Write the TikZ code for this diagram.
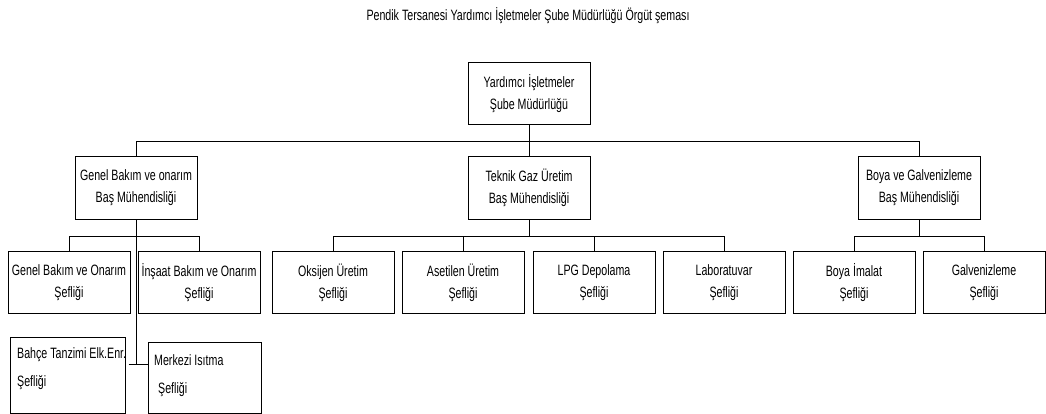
\documentclass[tikz,border=0pt]{standalone}
\usepackage{fontspec}
\setmainfont[FakeStretch=0.71]{Liberation Sans}
\usepackage{tikz}
\usetikzlibrary{positioning,calc}

\begin{document}
\begin{tikzpicture}[
    x=1pt, y=-1pt,
    box/.style={rectangle, draw, fill=white, line width=1pt, minimum width=122pt, minimum height=62pt, inner sep=2pt, align=center, font=\fontsize{15}{22}\selectfont},
    freebox/.style={rectangle, draw, fill=white, line width=1pt, minimum width=115pt, minimum height=76pt, inner sep=0pt},
    boxtext/.style={anchor=west, inner sep=0pt, align=left, font=\fontsize{15}{28}\selectfont},
    link/.style={line width=1pt}
]
  \useasboundingbox (0,0) rectangle (1046,414);

  % Title
  \node[font=\fontsize{15}{18}\selectfont] (title) at (528,16) {Pendik Tersanesi Yardımcı İşletmeler Şube Müdürlüğü Örgüt şeması};

  % Level 1
  \node[box] (mudur) at (529,94) {Yardımcı İşletmeler\\Şube Müdürlüğü};

  % Level 2
  \node[box] (genel) at (136,188) {Genel Bakım ve onarım\\Baş Mühendisliği};
  \node[box] (teknik) at (529,188) {Teknik Gaz Üretim\\Baş Mühendisliği};
  \node[box] (boya) at (919,188) {Boya ve Galvenizleme\\Baş Mühendisliği};

  % Level 3
  \node[box] (genelsef) at (69,282.5) {Genel Bakım ve Onarım\\Şefliği};
  \node[box] (insaat) at (199,282.5) {İnşaat Bakım ve Onarım\\Şefliği};
  \node[box] (oksijen) at (333,282.5) {Oksijen Üretim\\Şefliği};
  \node[box] (asetilen) at (463,282.5) {Asetilen Üretim\\Şefliği};
  \node[box] (lpg) at (594,282.5) {LPG Depolama\\Şefliği};
  \node[box] (lab) at (724,282.5) {Laboratuvar\\Şefliği};
  \node[box] (boyaim) at (854,282.5) {Boya İmalat\\Şefliği};
  \node[box] (galv) at (984,282.5) {Galvenizleme\\Şefliği};

  % Level 4 - loose boxes
  \node[freebox] (bahce) at (67.5,375) {};
  \node[boxtext] (bahcetext) at (17,369) {Bahçe Tanzimi Elk.Enr.\\Şefliği};
  \node[freebox, minimum width=113pt, minimum height=71pt] (merkez) at (204.5,377.5) {};
  \node[boxtext] (merkeztext) at (154,376) {Merkezi Isıtma\\\hspace*{4pt}Şefliği};

  % Connectors
  \draw[link] (mudur) -- (teknik);
  \draw[link] (genel.north) -- ++(0,-15) -| (boya.north);

  \draw[link] (genel.south) -- ++(0,17) coordinate (gbus);
  \draw[link] (genelsef.north) |- (gbus) -| (insaat.north);
  \draw[link] (teknik.south) -- ++(0,17) coordinate (tbus);
  \draw[link] (oksijen.north) |- (tbus) -| (lab.north);
  \draw[link] (asetilen.north) -- (asetilen.north |- tbus);
  \draw[link] (lpg.north) -- (lpg.north |- tbus);
  \draw[link] (boya.south) -- ++(0,17) coordinate (bbus);
  \draw[link] (boyaim.north) |- (bbus) -| (galv.north);

  \coordinate (ek) at (136,364);
  \draw[link] (gbus) -- (ek);
  \draw[link] (bahce.east |- ek) ++(3,0) -- (merkez.west |- ek);
\end{tikzpicture}
\end{document}
